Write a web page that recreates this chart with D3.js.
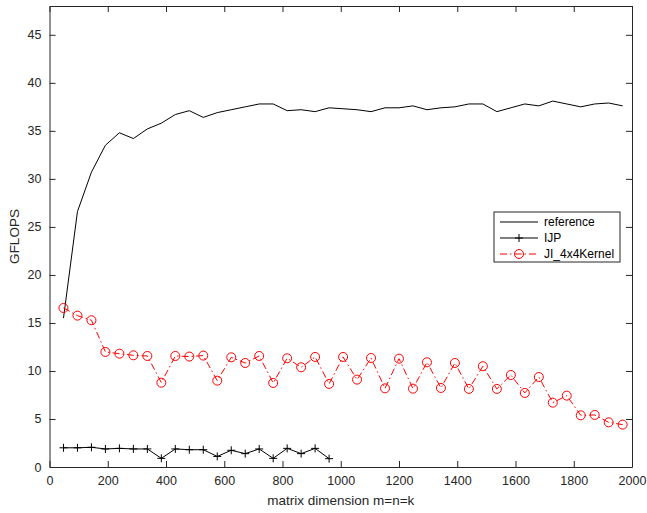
<!DOCTYPE html>
<html>
<head>
<meta charset="utf-8">
<script src="https://cdn.jsdelivr.net/npm/d3@7"></script>
<style>
  body { margin: 0; background: #fff; }
  svg { font-family: "Liberation Sans", Arial, sans-serif; }
</style>
</head>
<body>
<svg id="chart" width="647" height="513"></svg>
<script>
(function(){

  // matrix sizes m=n=k, step 48
  const sizes = d3.range(1, 42).map(i => i * 48);

  // GFLOPS
  const reference = [15.5, 26.6, 30.7, 33.5, 34.8, 34.2, 35.2, 35.8, 36.7, 37.1,
    36.4, 36.9, 37.2, 37.5, 37.8, 37.8, 37.1, 37.2, 37.0, 37.4,
    37.3, 37.2, 37.0, 37.4, 37.4, 37.6, 37.2, 37.4, 37.5, 37.8,
    37.8, 37.0, 37.4, 37.8, 37.6, 38.1, 37.8, 37.5, 37.8, 37.9, 37.6];

  const ijp = [2.0, 2.0, 2.05, 1.88, 1.94, 1.88, 1.88, 0.9, 1.88, 1.8,
    1.8, 1.1, 1.74, 1.39, 1.88, 0.9, 1.94, 1.39, 1.94, 0.87];

  const kernel = [16.56, 15.76, 15.28, 11.98, 11.8, 11.63, 11.56, 8.78, 11.56, 11.5,
    11.6, 8.99, 11.42, 10.83, 11.56, 8.75, 11.32, 10.38, 11.46, 8.65,
    11.46, 9.1, 11.35, 8.19, 11.28, 8.16, 10.9, 8.23, 10.83, 8.13,
    10.49, 8.13, 9.58, 7.71, 9.37, 6.7, 7.43, 5.38, 5.42, 4.65, 4.41];

  const xTicks = d3.range(0, 2001, 200);
  const yTicks = d3.range(0, 46, 5);

  const margin = {top: 6, right: 15, bottom: 46, left: 49.5};
  const width = 647 - margin.left - margin.right,
        height = 513 - margin.top - margin.bottom;

  const xScale = d3.scaleLinear().domain([0, 2000]).range([0, width]);
  const yScale = d3.scaleLinear().domain([0, 48]).range([height, 0]);

  const svg = d3.select("#chart")
    .append("g")
    .attr("transform", "translate(" + margin.left + "," + margin.top + ")");

  const axisColour = "#262626";

  // axes with inward ticks (matlab style)
  const xAxis = d3.axisBottom(xScale).tickValues(xTicks).tickFormat(d3.format("d"))
    .tickSizeInner(-6).tickSizeOuter(0).tickPadding(9);
  const yAxis = d3.axisLeft(yScale).tickValues(yTicks).tickSizeInner(-6).tickSizeOuter(0).tickPadding(8);
  const xTop = d3.axisTop(xScale).tickValues(xTicks).tickSizeInner(-6).tickSizeOuter(0).tickFormat("");
  const yRight = d3.axisRight(yScale).tickValues(yTicks).tickSizeInner(-6).tickSizeOuter(0).tickFormat("");

  const gx = svg.append("g").attr("transform", "translate(0," + height + ")").call(xAxis);
  const gy = svg.append("g").call(yAxis);
  const gt = svg.append("g").call(xTop);
  const gr = svg.append("g").attr("transform", "translate(" + width + ",0)").call(yRight);

  [gx, gy, gt, gr].forEach(g => {
    g.selectAll("path, line").attr("stroke", axisColour);
    g.selectAll("text").attr("fill", axisColour).style("font-size", "12.5px");
  });

  svg.append("text")
    .attr("x", width / 2)
    .attr("y", height + 38)
    .attr("text-anchor", "middle")
    .attr("fill", axisColour)
    .style("font-size", "13.5px")
    .text("matrix dimension m=n=k");

  svg.append("text")
    .attr("transform", "rotate(-90)")
    .attr("x", -height / 2)
    .attr("y", -31)
    .attr("text-anchor", "middle")
    .attr("fill", axisColour)
    .style("font-size", "13.5px")
    .text("GFLOPS");

  const line = d3.line()
    .x(d => xScale(d[0]))
    .y(d => yScale(d[1]));

  // reference
  svg.append("path")
    .datum(reference.map((v, i) => [sizes[i], v]))
    .attr("d", line)
    .attr("fill", "none")
    .attr("stroke", "#000")
    .attr("stroke-width", 1);

  // IJP
  const ijpData = ijp.map((v, i) => [sizes[i], v]);
  svg.append("path")
    .datum(ijpData)
    .attr("d", line)
    .attr("fill", "none")
    .attr("stroke", "#000")
    .attr("stroke-width", 1);

  svg.selectAll(".plus")
    .data(ijpData)
    .enter().append("path")
      .attr("class", "plus")
      .attr("transform", d => "translate(" + xScale(d[0]) + "," + yScale(d[1]) + ")")
      .attr("d", "M-4,0H4M0,-4V4")
      .attr("stroke", "#000")
      .attr("stroke-width", 1);

  // JI_4x4Kernel
  const kData = kernel.map((v, i) => [sizes[i], v]);
  svg.append("path")
    .datum(kData)
    .attr("d", line)
    .attr("fill", "none")
    .attr("stroke", "#ff0000")
    .attr("stroke-width", 1)
    .attr("stroke-dasharray", "7,3,1.5,3");

  svg.selectAll(".circ")
    .data(kData)
    .enter().append("circle")
      .attr("class", "circ")
      .attr("cx", d => xScale(d[0]))
      .attr("cy", d => yScale(d[1]))
      .attr("r", 4.5)
      .attr("fill", "none")
      .attr("stroke", "#ff0000")
      .attr("stroke-width", 1);

  // legend
  const legendItems = [
    {name: "reference", colour: "#000", marker: null, dash: null},
    {name: "IJP", colour: "#000", marker: "plus", dash: null},
    {name: "JI_4x4Kernel", colour: "#ff0000", marker: "circle", dash: "7,3,1.5,3"}
  ];

  const legend = svg.append("g")
    .attr("transform", "translate(" + (494 - margin.left) + "," + (212 - margin.top) + ")");

  legend.append("rect")
    .attr("width", 126)
    .attr("height", 50)
    .attr("fill", "#fff")
    .attr("stroke", axisColour)
    .attr("stroke-width", 1);

  const li = legend.selectAll(".li")
    .data(legendItems)
    .enter().append("g")
      .attr("transform", (d, i) => "translate(0," + (10 + i * 16) + ")");

  li.append("line")
    .attr("x1", 6).attr("x2", 44)
    .attr("stroke", d => d.colour)
    .attr("stroke-width", 1)
    .attr("stroke-dasharray", d => d.dash);

  li.filter(d => d.marker === "plus").append("path")
    .attr("transform", "translate(25,0)")
    .attr("d", "M-4,0H4M0,-4V4")
    .attr("stroke", "#000");

  li.filter(d => d.marker === "circle").append("circle")
    .attr("cx", 25).attr("r", 4.5)
    .attr("fill", "none")
    .attr("stroke", "#ff0000");

  li.append("text")
    .attr("x", 50)
    .attr("dy", "0.35em")
    .attr("fill", "#000")
    .style("font-size", "12px")
    .text(d => d.name);

})();
</script>
</body>
</html>
